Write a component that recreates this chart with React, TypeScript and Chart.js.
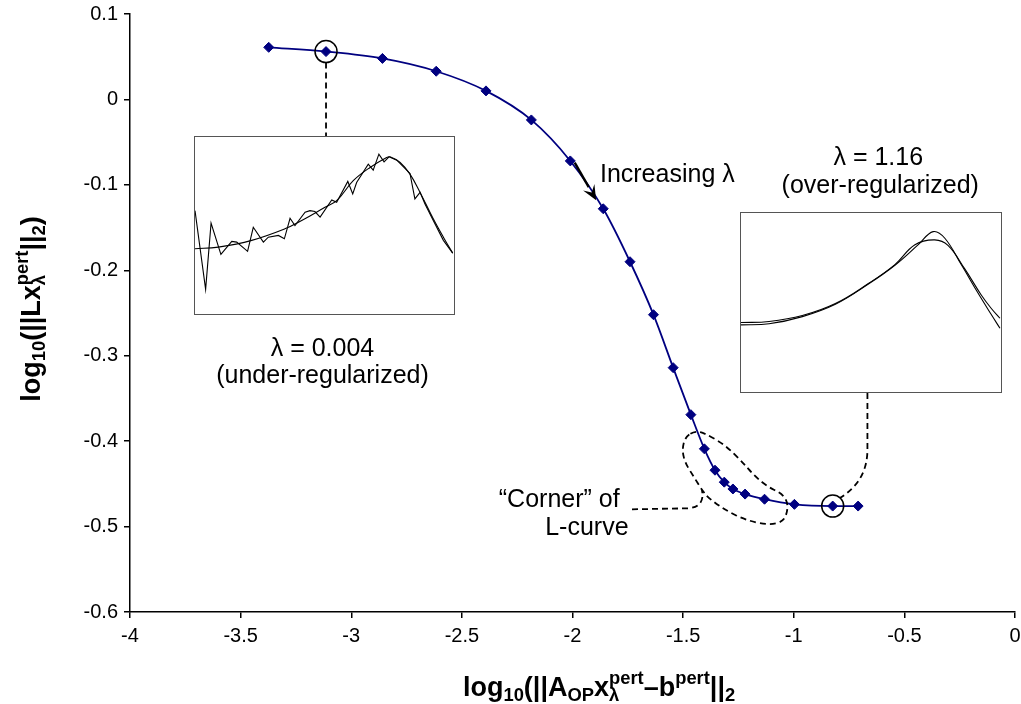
import React, { useEffect, useRef } from "react";
import { Chart, registerables } from "chart.js";

Chart.register(...registerables);

// ---------- main L-curve data ----------
const residualLog = [
  -3.373, -3.114, -2.859, -2.616, -2.391, -2.186, -2.01, -1.861, -1.74, -1.634, -1.545,
  -1.465, -1.404, -1.356, -1.314, -1.275, -1.22, -1.132, -0.997, -0.824, -0.709,
];
const solutionLog = [
  0.061, 0.056, 0.048, 0.033, 0.01, -0.024, -0.072, -0.128, -0.19, -0.252, -0.314,
  -0.369, -0.409, -0.434, -0.448, -0.456, -0.462, -0.468, -0.474, -0.476, -0.476,
];
const xTickValues = [-4, -3.5, -3, -2.5, -2, -1.5, -1, -0.5, 0];
const yTickValues = [0.1, 0, -0.1, -0.2, -0.3, -0.4, -0.5, -0.6];
const underIndex = 1; // lambda = 0.004
const overIndex = 19; // lambda = 1.16

// ---------- inset 1 (under-regularized) ----------
const inset1SmoothX = [0, 9.0, 21.9, 34.7, 41.2, 50.2, 54.7, 61.1, 67.6, 74.0, 75.3, 79.2, 83.0, 86.9, 92.0, 95.9, 99.5];
const inset1SmoothY = [36.9, 37.8, 41.6, 48.1, 52.8, 60.3, 64.0, 75.3, 82.8, 88.4, 88.8, 85.6, 79.0, 68.7, 53.8, 43.4, 34.4];
const inset1NoisyX = [
  0, 4.1, 6.2, 10.0, 14.2, 16.1, 20.3, 22.5, 26.4, 28.3, 32.2, 34.5, 36.7, 38.6, 42.5, 44.4, 46.3, 48.3,
  52.8, 54.7, 59.0, 60.9, 62.4, 66.9, 68.8, 71.0, 73.0, 74.9, 77.9, 83.0, 84.9, 86.9, 88.8, 92.0, 95.9, 99.5,
];
const inset1NoisyY = [
  58.4, 13.9, 51.3, 33.7, 41.0, 40.6, 35.4, 49.0, 40.6, 43.4, 44.4, 42.5, 54.1, 50.0, 57.5, 58.4, 57.9, 54.7,
  64.4, 63.1, 74.9, 67.8, 74.3, 84.7, 81.3, 90.3, 86.0, 88.8, 86.9, 79.4, 65.0, 68.7, 62.2, 52.8, 41.6, 34.4,
];

// ---------- inset 2 (over-regularized) ----------
const inset2X = [0, 10.8, 23.6, 36.3, 49.0, 59.2, 68.2, 73.9, 78.4, 84.7, 91.1, 96.2, 99.6];
const inset2AY = [37.5, 38.1, 42.1, 49.0, 60.3, 70.8, 82.3, 89.6, 85.9, 71.2, 55.4, 43.4, 35.6];
const inset2BX = [0, 10.8, 23.6, 36.3, 49.0, 59.2, 66.9, 74.5, 79.6, 86.0, 92.4, 96.2, 99.6];
const inset2BY = [38.8, 39.4, 42.7, 49.4, 60.6, 71.2, 82.3, 85.0, 81.9, 68.9, 54.2, 46.8, 41.2];

// ---------- annotation geometry (data units of the main chart) ----------
const cornerBlob: [number, number][] = [
  [-1.444, -0.388], [-1.4, -0.391], [-1.31, -0.4045], [-1.234, -0.424], [-1.174, -0.4416],
  [-1.114, -0.454], [-1.061, -0.4603], [-1.031, -0.4689], [-1.027, -0.4806], [-1.046, -0.4943],
  [-1.114, -0.4982], [-1.219, -0.4923], [-1.31, -0.4806], [-1.384, -0.4669], [-1.415, -0.4572],
  [-1.452, -0.4416], [-1.49, -0.4259], [-1.505, -0.4104], [-1.49, -0.3948],
];

const FONT = "'Liberation Sans', Arial, Helvetica, sans-serif";
const NAVY = "#000080";

const INSET1 = { left: 194, top: 136, width: 261, height: 179 };
const INSET2 = { left: 740, top: 212, width: 262, height: 181 };

type Seg = { t: string; m?: "sub" | "sup"; s?: string };

function drawRich(ctx: CanvasRenderingContext2D, segs: Seg[], cx: number, cy: number, size: number) {
  const small = size * 0.68;
  const big = `bold ${size}px ${FONT}`;
  const sm = `bold ${small}px ${FONT}`;
  const widths = segs.map((sg) => {
    if (!sg.m) {
      ctx.font = big;
      return ctx.measureText(sg.t).width;
    }
    ctx.font = sm;
    let w = ctx.measureText(sg.t).width;
    if (sg.s) w = Math.max(w, ctx.measureText(sg.s).width);
    return w;
  });
  const total = widths.reduce((a, b) => a + b, 0);
  let x = cx - total / 2;
  const base = cy + size * 0.36;
  ctx.textAlign = "left";
  ctx.textBaseline = "alphabetic";
  ctx.fillStyle = "#000";
  segs.forEach((sg, i) => {
    if (!sg.m) {
      ctx.font = big;
      ctx.fillText(sg.t, x, base);
    } else {
      ctx.font = sm;
      if (sg.m === "sub") ctx.fillText(sg.t, x, base + size * 0.2);
      else ctx.fillText(sg.t, x, base - size * 0.42);
      if (sg.s) ctx.fillText(sg.s, x, base - size * 0.42);
    }
    x += widths[i];
  });
}

const xTitle: Seg[] = [
  { t: "log" }, { t: "10", m: "sub" }, { t: "(||A" }, { t: "OP", m: "sub" }, { t: "x" },
  { t: "λ", m: "sub", s: "pert" }, { t: "–b" }, { t: "pert", m: "sup" }, { t: "||" }, { t: "2", m: "sub" },
];
const yTitle: Seg[] = [
  { t: "log" }, { t: "10", m: "sub" }, { t: "(||Lx" }, { t: "λ", m: "sub", s: "pert" }, { t: "||" },
  { t: "2", m: "sub" }, { t: ")" },
];

function smoothClosedPath(ctx: CanvasRenderingContext2D, pts: [number, number][]) {
  const n = pts.length;
  const mid = (a: [number, number], b: [number, number]) => [(a[0] + b[0]) / 2, (a[1] + b[1]) / 2];
  const m0 = mid(pts[n - 1], pts[0]);
  ctx.moveTo(m0[0], m0[1]);
  for (let i = 0; i < n; i++) {
    const p = pts[i];
    const m = mid(p, pts[(i + 1) % n]);
    ctx.quadraticCurveTo(p[0], p[1], m[0], m[1]);
  }
}

const annotationPlugin = {
  id: "lcurveAnnotations",
  afterDraw(chart: any) {
    const ctx: CanvasRenderingContext2D = chart.ctx;
    const xs = chart.scales.x;
    const ys = chart.scales.y;
    const X = (v: number) => xs.getPixelForValue(v);
    const Y = (v: number) => ys.getPixelForValue(v);
    const meta = chart.getDatasetMeta(0);
    const pUnder = meta.data[underIndex];
    const pOver = meta.data[overIndex];
    const R = 11;

    ctx.save();
    ctx.strokeStyle = "#000";
    ctx.lineWidth = 1.5;

    // circles
    [pUnder, pOver].forEach((p: any) => {
      ctx.beginPath();
      ctx.arc(p.x, p.y, R, 0, Math.PI * 2);
      ctx.stroke();
    });

    // dashed connectors
    ctx.setLineDash([6, 4]);
    ctx.lineWidth = 1.8;
    ctx.beginPath();
    ctx.moveTo(pUnder.x, pUnder.y + R);
    ctx.lineTo(pUnder.x, INSET1.top);
    ctx.stroke();

    const cx2 = X(-0.667);
    ctx.beginPath();
    ctx.moveTo(cx2, INSET2.top + INSET2.height);
    ctx.lineTo(cx2, Y(-0.41));
    ctx.quadraticCurveTo(cx2, Y(-0.447), pOver.x + 7, pOver.y - 8);
    ctx.stroke();

    // corner blob
    ctx.beginPath();
    smoothClosedPath(ctx, cornerBlob.map(([a, b]) => [X(a), Y(b)] as [number, number]));
    ctx.stroke();

    // leader from corner text
    ctx.beginPath();
    ctx.moveTo(X(-1.731), Y(-0.4798));
    ctx.lineTo(X(-1.475), Y(-0.4786));
    ctx.quadraticCurveTo(X(-1.4), Y(-0.4765), X(-1.415), Y(-0.4572));
    ctx.stroke();
    ctx.setLineDash([]);

    // arrow "Increasing lambda"
    const ax0 = X(-1.99), ay0 = Y(-0.074), ax1 = X(-1.893), ay1 = Y(-0.118);
    const ang = Math.atan2(ay1 - ay0, ax1 - ax0);
    const hl = 15, hw = 6.5;
    const bx = ax1 - hl * Math.cos(ang), by = ay1 - hl * Math.sin(ang);
    ctx.lineWidth = 2.4;
    ctx.beginPath();
    ctx.moveTo(ax0, ay0);
    ctx.lineTo(bx, by);
    ctx.stroke();
    ctx.fillStyle = "#000";
    ctx.beginPath();
    ctx.moveTo(ax1, ay1);
    ctx.lineTo(bx + hw * Math.sin(ang), by - hw * Math.cos(ang));
    ctx.lineTo(ax1 - hl * 0.6 * Math.cos(ang), ay1 - hl * 0.6 * Math.sin(ang));
    ctx.lineTo(bx - hw * Math.sin(ang), by + hw * Math.cos(ang));
    ctx.closePath();
    ctx.fill();

    // texts
    ctx.fillStyle = "#000";
    ctx.font = `25px ${FONT}`;
    ctx.textBaseline = "middle";
    ctx.textAlign = "left";
    ctx.fillText("Increasing λ", X(-1.876), Y(-0.0885));
    ctx.textAlign = "center";
    ctx.fillText("λ = 1.16", X(-0.618), Y(-0.0686));
    ctx.fillText("(over-regularized)", X(-0.609), Y(-0.1013));
    ctx.fillText("λ = 0.004", X(-3.13), Y(-0.2921));
    ctx.fillText("(under-regularized)", X(-3.13), Y(-0.3237));
    ctx.fillText("“Corner” of", X(-2.06), Y(-0.4689));
    ctx.fillText("L-curve", X(-1.935), Y(-0.5017));

    // axis titles
    const ca = chart.chartArea;
    drawRich(ctx, xTitle, X(-1.88), 686, 27);
    ctx.translate(30, (ca.top + ca.bottom) / 2 - 4);
    ctx.rotate(-Math.PI / 2);
    drawRich(ctx, yTitle, 0, 0, 27);
    ctx.restore();
  },
};

function Inset(props: { box: { left: number; top: number; width: number; height: number }; series: { x: number[]; y: number[]; tension: number }[] }) {
  const ref = useRef<HTMLCanvasElement | null>(null);
  const { box, series } = props;
  useEffect(() => {
    if (!ref.current) return;
    const chart = new Chart(ref.current, {
      type: "line",
      data: {
        datasets: series.map((s) => ({
          data: s.x.map((x, i) => ({ x, y: s.y[i] })),
          borderColor: "#000",
          borderWidth: 1.1,
          pointRadius: 0,
          tension: s.tension,
          fill: false,
        })),
      },
      options: {
        animation: false,
        responsive: false,
        maintainAspectRatio: false,
        layout: { padding: 0 },
        plugins: { legend: { display: false }, tooltip: { enabled: false } },
        scales: {
          x: { type: "linear", min: 0, max: 100, display: false },
          y: { type: "linear", min: 0, max: 100, display: false },
        },
      },
    } as any);
    return () => chart.destroy();
  }, []);
  return (
    <div
      style={{
        position: "absolute",
        left: box.left,
        top: box.top,
        width: box.width,
        height: box.height,
        boxSizing: "border-box",
        border: "1px solid #555",
        background: "#fff",
      }}
    >
      <canvas ref={ref} width={box.width - 2} height={box.height - 2} style={{ display: "block" }} />
    </div>
  );
}

export default function App() {
  const ref = useRef<HTMLCanvasElement | null>(null);
  useEffect(() => {
    if (!ref.current) return;
    const tickFont = { family: FONT, size: 20 };
    const chart = new Chart(ref.current, {
      type: "line",
      data: {
        datasets: [
          {
            data: residualLog.map((x, i) => ({ x, y: solutionLog[i] })),
            borderColor: NAVY,
            backgroundColor: NAVY,
            borderWidth: 1.8,
            pointStyle: "rectRot",
            pointRadius: 5,
            pointBorderWidth: 1,
            pointBorderColor: NAVY,
            pointBackgroundColor: NAVY,
            cubicInterpolationMode: "monotone",
            fill: false,
          },
        ],
      },
      options: {
        animation: false,
        responsive: false,
        maintainAspectRatio: false,
        layout: { padding: { top: 14, right: 4, left: 0, bottom: 0 } },
        plugins: { legend: { display: false }, tooltip: { enabled: false } },
        scales: {
          x: {
            type: "linear",
            min: -4,
            max: 0,
            afterBuildTicks: (s: any) => {
              s.ticks = xTickValues.map((v) => ({ value: v }));
            },
            ticks: { font: tickFont, color: "#000", padding: 6, maxRotation: 0, autoSkip: false, callback: (v: any) => String(v) },
            grid: { drawOnChartArea: false, drawTicks: true, tickLength: 6, color: "#000", lineWidth: 1.5 },
            border: { display: true, color: "#000", width: 1.5 },
            afterFit: (s: any) => {
              s.height = 92;
              s.paddingLeft = 0;
              s.paddingRight = 0;
            },
          },
          y: {
            type: "linear",
            min: -0.6,
            max: 0.1,
            afterBuildTicks: (s: any) => {
              s.ticks = yTickValues.map((v) => ({ value: v }));
            },
            ticks: { font: tickFont, color: "#000", padding: 6, autoSkip: false, callback: (v: any) => String(v) },
            grid: { drawOnChartArea: false, drawTicks: true, tickLength: 6, color: "#000", lineWidth: 1.5 },
            border: { display: true, color: "#000", width: 1.5 },
            afterFit: (s: any) => {
              s.width = 130;
              s.paddingTop = 0;
              s.paddingBottom = 0;
            },
          },
        },
      },
      plugins: [annotationPlugin],
    } as any);
    return () => chart.destroy();
  }, []);

  return (
    <div style={{ position: "absolute", left: 0, top: 0, width: 1021, height: 704, background: "#fff" }}>
      <canvas ref={ref} width={1021} height={704} style={{ display: "block" }} />
      <Inset
        box={INSET1}
        series={[
          { x: inset1SmoothX, y: inset1SmoothY, tension: 0.4 },
          { x: inset1NoisyX, y: inset1NoisyY, tension: 0 },
        ]}
      />
      <Inset
        box={INSET2}
        series={[
          { x: inset2X, y: inset2AY, tension: 0.4 },
          { x: inset2BX, y: inset2BY, tension: 0.4 },
        ]}
      />
    </div>
  );
}
